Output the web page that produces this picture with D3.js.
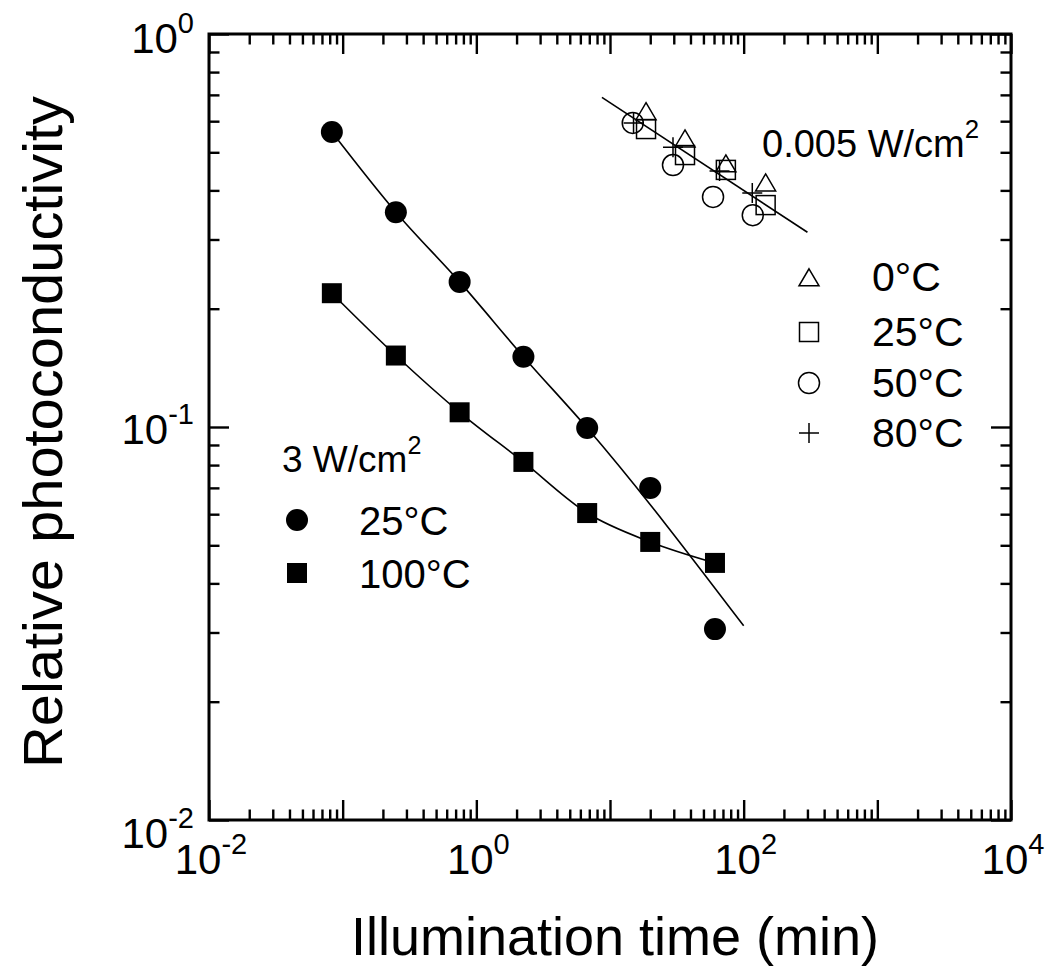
<!DOCTYPE html>
<html>
<head>
<meta charset="utf-8">
<script src="https://cdn.jsdelivr.net/npm/d3@7"></script>
<style>
  html, body { margin: 0; padding: 0; background: #fff; }
  svg { display: block; font-family: "Liberation Sans", Arial, Helvetica, sans-serif; }
</style>
</head>
<body>
<svg id="chart" width="1050" height="979"></svg>
<script>
// ---- Data: illumination time (min) vs relative photoconductivity ----

// 3 W/cm^2 illumination
const hiTime  = [0.083, 0.25, 0.75, 2.25, 6.75, 20, 61];
const hi25C   = [0.563, 0.352, 0.234, 0.151, 0.0994, 0.070, 0.0306];
const hi100C  = [0.219, 0.152, 0.109, 0.0815, 0.0604, 0.0510, 0.0451];
// guide line drawn through the 25°C points
const hiFitTime = [0.083, 0.25, 0.75, 2.25, 6.75, 100];
const hiFit25C  = [0.563, 0.352, 0.234, 0.151, 0.0994, 0.0312];

// 0.005 W/cm^2 illumination
const loTime0  = [18.6, 36.4, 73.6, 146];
const lo0C     = [0.630, 0.537, 0.464, 0.415];
const loTime25 = [18.6, 36.4, 73.6, 146];
const lo25C    = [0.573, 0.492, 0.451, 0.367];
const loTime50 = [14.8, 29.6, 59, 117];
const lo50C    = [0.594, 0.464, 0.385, 0.346];
const loTime80 = [15, 29.6, 66, 116];
const lo80C    = [0.594, 0.515, 0.448, 0.394];
const loFitTime = [8.7, 300];
const loFit     = [0.69, 0.313];

// Axis tick labels (base 10 exponents)
const xTickExps = [-2, 0, 2, 4];
const yTickExps = [0, -1, -2];

// ---- Layout ----
const svg = d3.select("#chart");
const L = 209, R = 1011, T = 34, B = 820;

const x = d3.scaleLog().domain([1e-2, 1e4]).range([L, R]);
const y = d3.scaleLog().domain([1e-2, 1]).range([B, T]);

const xMajor = d3.range(-2, 5).map(e => Math.pow(10, e));
const xMinor = [];
for (let e = -2; e < 4; e++) for (let m = 2; m <= 9; m++) xMinor.push(m * Math.pow(10, e));
const yMajor = d3.range(-2, 1).map(e => Math.pow(10, e));
const yMinor = [];
for (let e = -2; e < 0; e++) for (let m = 2; m <= 9; m++) yMinor.push(m * Math.pow(10, e));

const MAJ = 20, MIN = 10.5;

function styleAxis(g) {
  g.select(".domain").remove();
  g.selectAll(".tick line").attr("stroke", "#000").attr("stroke-width", 2.4);
  g.selectAll(".tick text").remove();
}

// inward ticks on all four sides
[[xMajor, MAJ], [xMinor, MIN]].forEach(([vals, len]) => {
  svg.append("g").attr("transform", `translate(0,${B})`)
    .call(d3.axisBottom(x).tickValues(vals).tickSize(-len).tickFormat(""))
    .call(styleAxis);
  svg.append("g").attr("transform", `translate(0,${T})`)
    .call(d3.axisTop(x).tickValues(vals).tickSize(-len).tickFormat(""))
    .call(styleAxis);
});
[[yMajor, MAJ], [yMinor, MIN]].forEach(([vals, len]) => {
  svg.append("g").attr("transform", `translate(${L},0)`)
    .call(d3.axisLeft(y).tickValues(vals).tickSize(-len).tickFormat(""))
    .call(styleAxis);
  svg.append("g").attr("transform", `translate(${R},0)`)
    .call(d3.axisRight(y).tickValues(vals).tickSize(-len).tickFormat(""))
    .call(styleAxis);
});

// frame
svg.append("rect")
  .attr("x", L).attr("y", T).attr("width", R - L).attr("height", B - T)
  .attr("fill", "none").attr("stroke", "#000").attr("stroke-width", 3);

// power-of-ten label helper
function powLabel(sel, exp, size, supSize, supRise) {
  sel.append("tspan").text("10").attr("font-size", size);
  sel.append("tspan").text(String(exp))
    .attr("font-size", supSize).attr("dy", -supRise);
}

// x tick labels
xTickExps.forEach(e => {
  const t = svg.append("text")
    .attr("x", x(Math.pow(10, e)) + 2)
    .attr("y", 874)
    .attr("text-anchor", "middle")
    .attr("fill", "#000");
  powLabel(t, e, 42, 29, 20);
});

// y tick labels
const yLabelShift = { "0": 19, "-1": 17, "-2": 28 };
yTickExps.forEach(e => {
  const t = svg.append("text")
    .attr("x", L - 15)
    .attr("y", y(Math.pow(10, e)) + yLabelShift[String(e)])
    .attr("text-anchor", "end")
    .attr("fill", "#000");
  powLabel(t, e, 42, 29, 20);
});

// axis titles
svg.append("text")
  .attr("x", 615).attr("y", 955)
  .attr("text-anchor", "middle")
  .attr("font-size", 54)
  .attr("fill", "#000")
  .text("Illumination time (min)");

svg.append("text")
  .attr("transform", "translate(62,432) rotate(-90)")
  .attr("text-anchor", "middle")
  .attr("font-size", 56)
  .attr("textLength", 672)
  .attr("lengthAdjust", "spacingAndGlyphs")
  .attr("fill", "#000")
  .text("Relative photoconductivity");

// ---- Lines ----
const lineGen = d3.line().x(d => x(d[0])).y(d => y(d[1]));
const lineSmooth = d3.line().x(d => x(d[0])).y(d => y(d[1])).curve(d3.curveMonotoneX);

svg.append("path")
  .datum(d3.zip(hiFitTime, hiFit25C))
  .attr("d", lineSmooth)
  .attr("fill", "none").attr("stroke", "#000").attr("stroke-width", 1.6);

svg.append("path")
  .datum(d3.zip(hiTime, hi100C))
  .attr("d", lineSmooth)
  .attr("fill", "none").attr("stroke", "#000").attr("stroke-width", 1.6);

svg.append("path")
  .datum(d3.zip(loFitTime, loFit))
  .attr("d", lineGen)
  .attr("fill", "none").attr("stroke", "#000").attr("stroke-width", 1.6);

// ---- Markers ----
const R_CIRC = 11, SQ = 20;

function filledCircles(xs, ys) {
  svg.append("g").selectAll("circle").data(d3.zip(xs, ys)).join("circle")
    .attr("cx", d => x(d[0])).attr("cy", d => y(d[1])).attr("r", R_CIRC)
    .attr("fill", "#000");
}
function filledSquares(xs, ys) {
  svg.append("g").selectAll("rect").data(d3.zip(xs, ys)).join("rect")
    .attr("x", d => x(d[0]) - SQ / 2).attr("y", d => y(d[1]) - SQ / 2)
    .attr("width", SQ).attr("height", SQ)
    .attr("fill", "#000");
}
function openCircles(xs, ys) {
  svg.append("g").selectAll("circle").data(d3.zip(xs, ys)).join("circle")
    .attr("cx", d => x(d[0])).attr("cy", d => y(d[1])).attr("r", 10.5)
    .attr("fill", "none").attr("stroke", "#000").attr("stroke-width", 1.5);
}
function openSquares(xs, ys) {
  svg.append("g").selectAll("rect").data(d3.zip(xs, ys)).join("rect")
    .attr("x", d => x(d[0]) - 9.5).attr("y", d => y(d[1]) - 9.5)
    .attr("width", 19).attr("height", 19)
    .attr("fill", "none").attr("stroke", "#000").attr("stroke-width", 1.5);
}
function trianglePath(cx, cy) {
  const w = 20, h = 17;
  return `M${cx},${cy - h * 0.6}L${cx + w / 2},${cy + h * 0.4}L${cx - w / 2},${cy + h * 0.4}Z`;
}
function openTriangles(xs, ys) {
  svg.append("g").selectAll("path").data(d3.zip(xs, ys)).join("path")
    .attr("d", d => trianglePath(x(d[0]), y(d[1])))
    .attr("fill", "none").attr("stroke", "#000").attr("stroke-width", 1.5);
}
function plusPath(cx, cy) {
  const a = 10;
  return `M${cx - a},${cy}H${cx + a}M${cx},${cy - a}V${cy + a}`;
}
function pluses(xs, ys) {
  svg.append("g").selectAll("path").data(d3.zip(xs, ys)).join("path")
    .attr("d", d => plusPath(x(d[0]), y(d[1])))
    .attr("fill", "none").attr("stroke", "#000").attr("stroke-width", 1.5);
}

filledCircles(hiTime, hi25C);
filledSquares(hiTime, hi100C);
openTriangles(loTime0, lo0C);
openSquares(loTime25, lo25C);
openCircles(loTime50, lo50C);
pluses(loTime80, lo80C);

// ---- Annotations & legends ----
function powerText(xp, yp, value, size) {
  const t = svg.append("text").attr("x", xp).attr("y", yp)
    .attr("font-size", size).attr("fill", "#000");
  t.append("tspan").text(value + " W/cm");
  t.append("tspan").text("2").attr("font-size", size * 0.68).attr("dy", -size * 0.5);
}
powerText(762, 157, "0.005", 38);
powerText(282, 472, "3", 37);

// lower-left legend
const hiLegend = [
  { label: "25°C", kind: "fcircle", y: 520 },
  { label: "100°C", kind: "fsquare", y: 573 }
];
hiLegend.forEach(d => {
  if (d.kind === "fcircle") {
    svg.append("circle").attr("cx", 297).attr("cy", d.y).attr("r", R_CIRC).attr("fill", "#000");
  } else {
    svg.append("rect").attr("x", 297 - SQ / 2).attr("y", d.y - SQ / 2)
      .attr("width", SQ).attr("height", SQ).attr("fill", "#000");
  }
  svg.append("text").attr("x", 359).attr("y", d.y + 15)
    .attr("font-size", 40).attr("fill", "#000").text(d.label);
});

// upper-right legend
const loLegend = [
  { label: "0°C", kind: "tri", y: 277 },
  { label: "25°C", kind: "osquare", y: 332 },
  { label: "50°C", kind: "ocircle", y: 383 },
  { label: "80°C", kind: "plus", y: 433 }
];
const lgX = 809;
loLegend.forEach(d => {
  const common = s => s.attr("fill", "none").attr("stroke", "#000").attr("stroke-width", 1.5);
  if (d.kind === "tri") {
    svg.append("path").attr("d", trianglePath(lgX, d.y + 2)).call(common);
  } else if (d.kind === "osquare") {
    svg.append("rect").attr("x", lgX - 9.5).attr("y", d.y - 9.5)
      .attr("width", 19).attr("height", 19).call(common);
  } else if (d.kind === "ocircle") {
    svg.append("circle").attr("cx", lgX).attr("cy", d.y).attr("r", 10.5).call(common);
  } else {
    svg.append("path").attr("d", plusPath(lgX, d.y)).call(common);
  }
  svg.append("text").attr("x", 872).attr("y", d.y + 14)
    .attr("font-size", 41).attr("fill", "#000").text(d.label);
});
</script>
</body>
</html>
